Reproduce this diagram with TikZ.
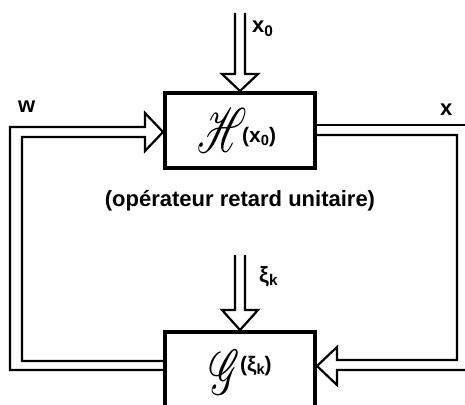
\documentclass[tikz,border=0pt]{standalone}
\usepackage{fontspec}
\setmainfont{Liberation Sans}
\usepackage{graphicx}
\usepackage{mathrsfs}
\newcommand\lowsub[1]{\raisebox{-0.32ex}{\scalebox{0.7}{#1}}}
\begin{document}
\begin{tikzpicture}[x=1pt,y=-1pt,
  conn/.style={line width=2.2pt, line join=miter, miter limit=20},
  blockbox/.style={draw, line width=4pt, minimum width=150pt, inner sep=0pt},
  lab/.style={font=\fontsize{22}{22}\selectfont\bfseries, inner sep=0pt},
  inlab/.style={font=\fontsize{21}{21}\selectfont\bfseries, inner sep=0pt},
  sym/.style={inner sep=0pt}]
\clip (0,0) rectangle (465,404);
% blocks
\node[blockbox, minimum height=75pt] (H) at (240,130.5) {};
\node[blockbox, minimum height=120pt, anchor=north] (G) at (240,330) {};
% block contents
\node[sym] (Hs) at (222,130) {\scalebox{3.9}[6.3]{$\mathscr{H}$}};
\node[inlab, anchor=base west] (Ha) at (242,142) {(x\lowsub{0})};
\node[sym] (Gs) at (225,372) {\scalebox{3.9}[6.3]{$\mathscr{G}$}};
\node[inlab, anchor=base west] (Ga) at (240,371) {(ξ\lowsub{k})};
% caption
\node[lab, anchor=base] (cap) at (240,206) {(opérateur retard unitaire)};
% labels
\node[lab, anchor=base west] (lx0) at (252,33) {x\lowsub{0}};
\node[lab, anchor=base west] (lxi) at (259,282) {ξ\lowsub{k}};
\node[lab, anchor=base west] (lw) at (18,112) {w};
\node[lab, anchor=base west] (lx) at (440,115) {x};
% input arrow x0 -> H
\draw[conn] (235,13) -- (235,74) -- (222,74) -- (H.north) -- (258,74) -- (245,74) -- (245,13);
% input arrow xi_k -> G
\draw[conn] (235,255) -- (235,310) -- (222,310) -- (G.north) -- (258,310) -- (245,310) -- (245,255);
% left loop: G -> H (w)
\draw[conn] (G.west |- 0,370) -- (10,370) -- (10,127) -- (145,127) -- (145,113)
  -- (H.west |- 0,132) -- (145,151) -- (145,137) -- (22,137) -- (22,361) -- (G.west |- 0,361);
% right loop: H -> G (x)
\draw[conn] (H.east |- 0,125) -- (466,125);
\draw[conn] (H.east |- 0,135) -- (457,135) -- (457,360) -- (337,360) -- (337,347)
  -- (G.east |- 0,366) -- (337,385) -- (337,370) -- (466,370);
\end{tikzpicture}
\end{document}
